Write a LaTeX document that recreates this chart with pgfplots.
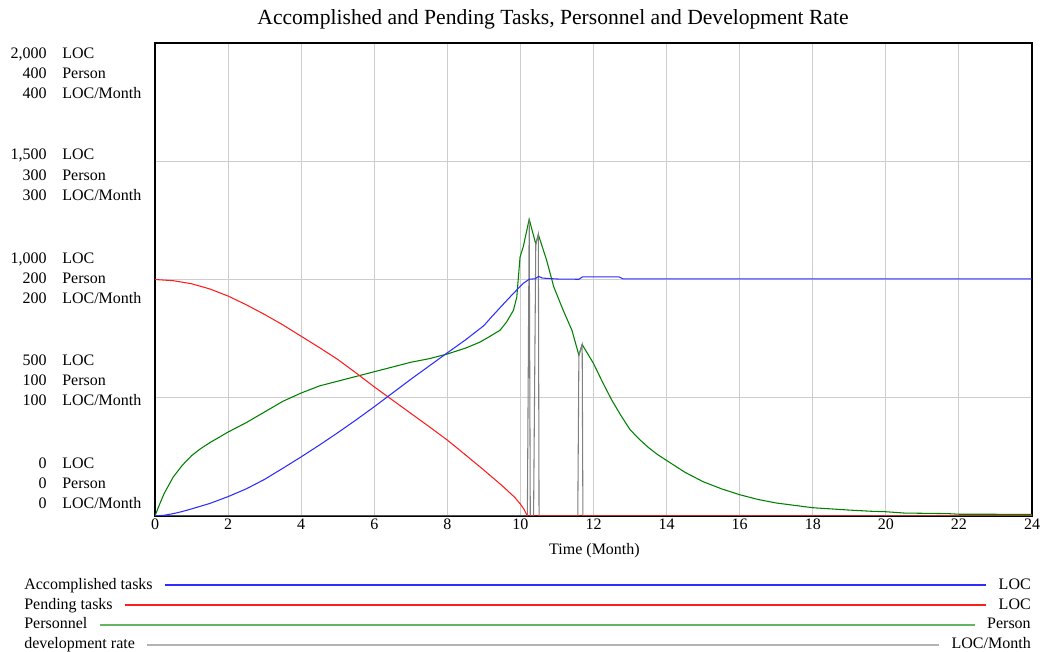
\documentclass[border=0pt]{standalone}
\usepackage{fontspec}
\setmainfont{Liberation Serif}
\usepackage{pgfplots}
\pgfplotsset{compat=1.18}
\usepackage{pgfplotstable}
\definecolor{cblue}{RGB}{45,45,255}
\definecolor{cred}{RGB}{255,30,30}
\definecolor{cgreen}{RGB}{0,128,0}
\definecolor{cgray}{RGB}{128,128,128}
\definecolor{lgreen}{RGB}{100,180,100}
\definecolor{gridc}{RGB}{205,205,205}

% Accomplished tasks (LOC)
\pgfplotstableread{
t v
0 0
0.25 3
0.5 10
0.75 19
1 30
1.5 53
2 82
2.5 115
3 155
3.5 202
4 250
4.5 300
5 352
5.5 406
6 462
6.5 520
7 578
7.5 634
8 690
8.5 745
9 805
9.2 840
9.45 882
9.8 940
10.08 984
10.24 1001
10.4 1003
10.5 1013
10.6 1006
11.0 1002
11.6 1001
11.7 1011
12.7 1011
12.8 1003
24 1003
}\accomp

% Pending tasks (LOC)
\pgfplotstableread{
t v
0 1000
0.5 995
1 982
1.5 960
2 930
2.5 893
3 852
3.5 808
4 760
4.5 712
5 662
5.5 605
6 546
6.5 490
7 434
7.5 378
8 321
8.5 258
9 194
9.5 128
9.85 78
10.0 50
10.1 28
10.19 0
24 0
}\pending

% Personnel (Person)
\pgfplotstableread{
t v
0 0
0.1 8
0.25 19
0.5 33
0.75 43
1 51
1.25 57
1.5 62
2 71
2.5 79
3 88
3.5 97
4 104
4.5 110
5 114
5.5 118
6 122
6.5 126
7 130
7.5 133
8 137
8.5 142
8.89 147
9.17 152
9.44 157
9.62 164
9.81 174
9.9 185
9.99 219
10.08 228
10.24 251
10.42 230
10.49 238
10.72 216
10.91 194
11.17 174
11.41 157
11.6 136
11.69 145
12.0 129
12.25 113
12.5 98
12.75 85
13 73
13.25 65
13.5 58
13.75 52
14 47
14.5 37
15 29
15.5 23
16 18
16.5 14
17 11
17.5 9
18 7
19 5
19.6 4
20 3.6
20.5 2.5
21.7 2
22 1.5
24 1.4
}\personnel

% development rate (LOC/Month)
\pgfplotstableread{
t v
0 0
10.19 0
10.24 251
10.27 0
10.36 0
10.42 230
10.49 238
10.51 0
11.57 0
11.6 136
11.69 145
11.71 0
24 0
}\devrate

\begin{document}
\begin{tikzpicture}[x=0.75pt,y=0.75pt]
\useasboundingbox (0,0) rectangle (1041,652);
\begin{axis}[
  at={(116.25pt,102pt)}, anchor=south west,
  width=657.75pt, height=354.75pt, scale only axis,
  xmin=0, xmax=24, ymin=0, ymax=2000,
  xtick={0,2,...,24}, ytick={0,500,...,2000},
  yticklabels={},
  grid=major,
  grid style={gridc, line width=0.8pt},
  major tick length=0pt,
  axis line style={black, line width=1.6pt},
  /pgf/number format/assume math mode=true,
  xticklabel style={font=\fontsize{12}{14}\selectfont, anchor=base, inner sep=0pt, yshift=-10.5pt},
  every axis plot/.append style={line width=0.8pt, no markers},
  clip=true,
]
\addplot[cgreen] table[x=t, y expr=\thisrow{v}*5] {\personnel};
\addplot[cgray] table[x=t, y expr=\thisrow{v}*5] {\devrate};
\addplot[cred] table[x=t, y=v] {\pending};
\addplot[cblue] table[x=t, y=v] {\accomp};
\end{axis}

% title
\node[anchor=base, inner sep=0pt, font=\fontsize{16.2}{19}\selectfont] at (553,627) {Accomplished and Pending Tasks, Personnel and Development Rate};
% x label
\node[anchor=base, inner sep=0pt, font=\fontsize{12}{14}\selectfont] at (594.5,97) {Time (Month)};

% y labels
\begin{scope}[every node/.style={inner sep=0pt, font=\fontsize{12}{14}\selectfont}]
\foreach \Y/\n/\u in {593/{2,000}/LOC, 573/400/Person, 553/400/LOC\slash Month,
                      492/{1,500}/LOC, 471/300/Person, 451/300/LOC\slash Month,
                      388/{1,000}/LOC, 368/200/Person, 348/200/LOC\slash Month,
                      286/500/LOC, 266/100/Person, 246/100/LOC\slash Month,
                      183/0/LOC, 163/0/Person, 143/0/LOC\slash Month}{
  \node[anchor=base east] at (47,\Y) {\n};
  \node[anchor=base west] at (62,\Y) {\u};
}

% legend
\node[anchor=base west] (l1) at (24,62) {Accomplished tasks};
\node[anchor=base east] (r1) at (1031,62) {LOC};
\draw[cblue, line width=1.2pt] ([xshift=9pt]l1.east |- 0,67) -- ([xshift=-9pt]r1.west |- 0,67);
\node[anchor=base west] (l2) at (24,42.5) {Pending tasks};
\node[anchor=base east] (r2) at (1031,42.5) {LOC};
\draw[cred, line width=1.2pt] ([xshift=9pt]l2.east |- 0,47) -- ([xshift=-9pt]r2.west |- 0,47);
\node[anchor=base west] (l3) at (24,23) {Personnel};
\node[anchor=base east] (r3) at (1031,23) {Person};
\draw[lgreen, line width=1.5pt] ([xshift=9pt]l3.east |- 0,26.5) -- ([xshift=-9pt]r3.west |- 0,26.5);
\node[anchor=base west] (l4) at (24,3.5) {development rate};
\node[anchor=base east] (r4) at (1031,3.5) {LOC/Month};
\draw[cgray!60, line width=1.5pt] ([xshift=9pt]l4.east |- 0,6.5) -- ([xshift=-9pt]r4.west |- 0,6.5);
\end{scope}
\end{tikzpicture}
\end{document}
